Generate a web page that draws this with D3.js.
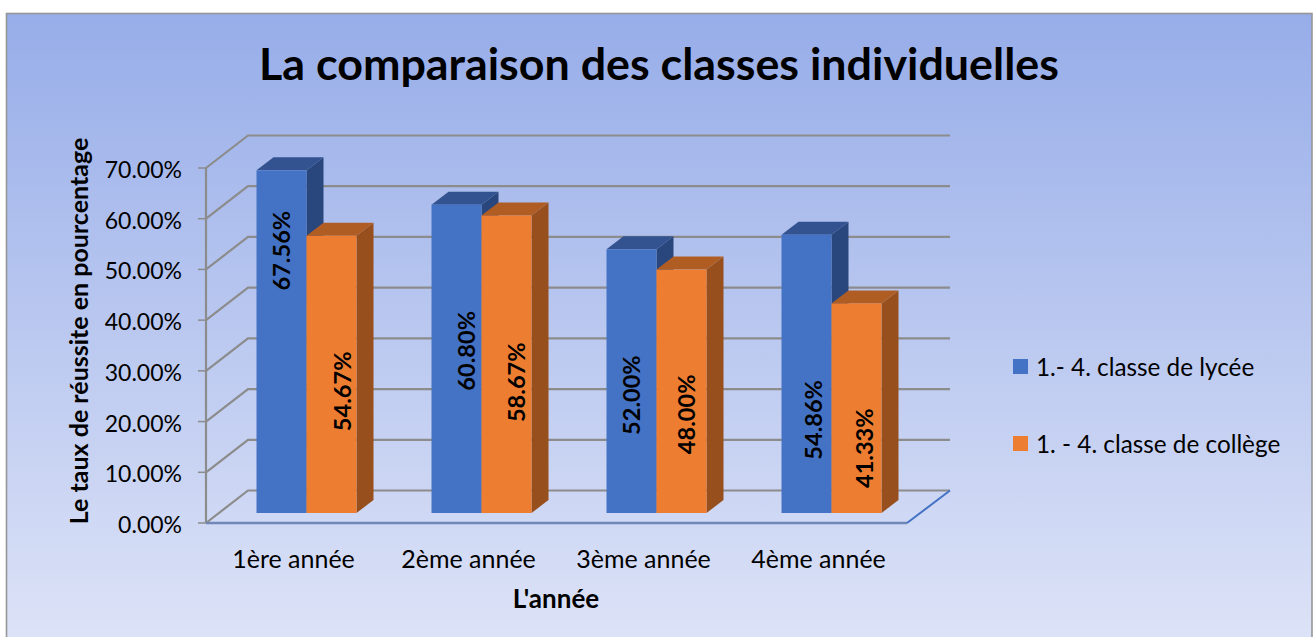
<!DOCTYPE html>
<html>
<head>
<meta charset="utf-8">
<script src="https://cdn.jsdelivr.net/npm/d3@7"></script>
<style>
  html, body { margin: 0; padding: 0; background: #fff; }
  svg { display: block; }
  text { font-family: Lato, "Open Sans", sans-serif; fill: #000; }
</style>
</head>
<body>
<svg id="chart" width="1314" height="637"></svg>
<script>
var categories = ["1ère année", "2ème année", "3ème année", "4ème année"];
var seriesNames = ["1.- 4. classe de lycée", "1. - 4. classe de collège"];
var lycee = [67.56, 60.80, 52.00, 54.86];
var college = [54.67, 58.67, 48.00, 41.33];
var yTicks = [0, 10, 20, 30, 40, 50, 60, 70];

var svg = d3.select("#chart");
var fmt = d3.format(".2f");

// 3d offsets: back wall, and the plane the bars stand on
var wallDx = 42, wallDy = -32.5;
var barDx = 13, barDy = -10;
var depthDx = 17, depthDy = -13;

var x = d3.scaleBand().domain(categories).range([206, 906]).paddingInner(0).paddingOuter(0);
var y = d3.scaleLinear().domain([0, 70]).range([523, 168]);

// the data labels were moved by hand in the original, so [dx, dy] from bar centre
var labelShift = [
  [[0, -91], [10, -8], [0, 14], [7, 46]],
  [[11, 17], [10, 18], [5, 23], [8, 40]]
];

// background panel
var defs = svg.append("defs");
var grad = defs.append("linearGradient").attr("id", "bg").attr("x1", 0).attr("y1", 0).attr("x2", 0).attr("y2", 1);
grad.append("stop").attr("offset", "0%").attr("stop-color", "#97ade9");
grad.append("stop").attr("offset", "100%").attr("stop-color", "#dde3f7");

svg.append("rect")
  .attr("x", 6.5).attr("y", 13.5)
  .attr("width", 1305.5).attr("height", 630)
  .attr("fill", "url(#bg)")
  .attr("stroke", "#969696")
  .attr("stroke-width", 1.6);

svg.append("text")
  .attr("x", 659).attr("y", 80)
  .attr("text-anchor", "middle")
  .style("font-size", "44.8px").style("font-weight", 700)
  .text("La comparaison des classes individuelles");

// walls
var wall = svg.append("g").attr("fill", "none").attr("stroke", "#8c8c8c").attr("stroke-width", 2.2);
yTicks.forEach(function(t) {
  var yy = y(t);
  wall.append("path")
    .attr("d", d3.line()([[206, yy], [206 + wallDx, yy + wallDy], [950, yy + wallDy]]));
  // tick mark
  wall.append("line").attr("x1", 198).attr("x2", 206).attr("y1", yy).attr("y2", yy).attr("stroke-width", 1.5);
});
wall.append("line").attr("x1", 206).attr("x2", 206).attr("y1", y(0)).attr("y2", y(70));

// floor edge
svg.append("line")
  .attr("x1", 206).attr("x2", 907).attr("y1", y(0)).attr("y2", y(0))
  .attr("stroke", "#6f88b6").attr("stroke-width", 2.5);
svg.append("line")
  .attr("x1", 907).attr("x2", 950).attr("y1", y(0)).attr("y2", y(0) + wallDy)
  .attr("stroke", "#4472c4").attr("stroke-width", 2);

// y tick labels
svg.append("g").selectAll("text").data(yTicks).enter().append("text")
  .attr("x", 182)
  .attr("y", function(d) { return y(d) + 10; })
  .attr("text-anchor", "end")
  .style("font-size", "23px")
  .text(function(d) { return fmt(d) + "%"; });

// x labels
svg.append("g").selectAll("text").data(categories).enter().append("text")
  .attr("x", function(d) { return x(d) + x.bandwidth() / 2; })
  .attr("y", 568)
  .attr("text-anchor", "middle")
  .style("font-size", "25px")
  .text(function(d) { return d; });

// axis titles
svg.append("text")
  .attr("x", 556).attr("y", 608)
  .attr("text-anchor", "middle")
  .style("font-size", "26px").style("font-weight", 700)
  .text("L'année");

svg.append("text")
  .attr("transform", "translate(88,331) rotate(-90)")
  .attr("text-anchor", "middle")
  .style("font-size", "25px").style("font-weight", 700)
  .text("Le taux de réussite en pourcentage");

// bars
var barW = 50;
var colors = [
  { front: "#4472c4", top: "#335390", side: "#29477d" },
  { front: "#ed7d31", top: "#b05d24", side: "#974f1d" }
];

function barLeft(cat, s) {
  return x(cat) + barDx + (x.bandwidth() - 2 * barW) / 2 + s * barW;
}

function drawBar(cat, value, s) {
  var x0 = barLeft(cat, s);
  var x1 = x0 + barW;
  var yb = y(0) + barDy;
  var yt = y(value) + barDy;
  var c = colors[s];
  var g = svg.append("g");
  var line = d3.line();
  g.append("path").attr("fill", c.side)
    .attr("d", line([[x1, yt], [x1 + depthDx, yt + depthDy], [x1 + depthDx, yb + depthDy], [x1, yb]]) + "Z");
  g.append("path").attr("fill", c.top)
    .attr("d", line([[x0, yt], [x0 + depthDx, yt + depthDy], [x1 + depthDx, yt + depthDy], [x1, yt]]) + "Z");
  g.append("rect").attr("x", x0).attr("y", yt).attr("width", barW).attr("height", yb - yt).attr("fill", c.front);
}

var labels = [];
categories.forEach(function(cat, i) {
  drawBar(cat, lycee[i], 0);
  drawBar(cat, college[i], 1);
  [lycee[i], college[i]].forEach(function(v, s) {
    labels.push({ cat: cat, v: v, s: s, shift: labelShift[s][i] });
  });
});

// data labels, rotated
svg.append("g").selectAll("text").data(labels).enter().append("text")
  .attr("transform", function(d) {
    var cx = barLeft(d.cat, d.s) + barW / 2 + 8 + d.shift[0];
    var cy = (y(d.v) + y(0)) / 2 + barDy + d.shift[1];
    return "translate(" + cx + "," + cy + ") rotate(-90)";
  })
  .attr("text-anchor", "middle")
  .style("font-size", "23.6px").style("font-weight", 700)
  .text(function(d) { return fmt(d.v) + "%"; });

// legend
var lg = svg.append("g").selectAll("g").data(seriesNames).enter().append("g")
  .attr("transform", function(d, i) { return "translate(1013," + (359 + i * 77) + ")"; });
lg.append("rect").attr("width", 15).attr("height", 15)
  .attr("fill", function(d, i) { return colors[i].front; });
lg.append("text").attr("x", 23).attr("y", 17)
  .style("font-size", "24.3px")
  .text(function(d) { return d; });
</script>
</body>
</html>
